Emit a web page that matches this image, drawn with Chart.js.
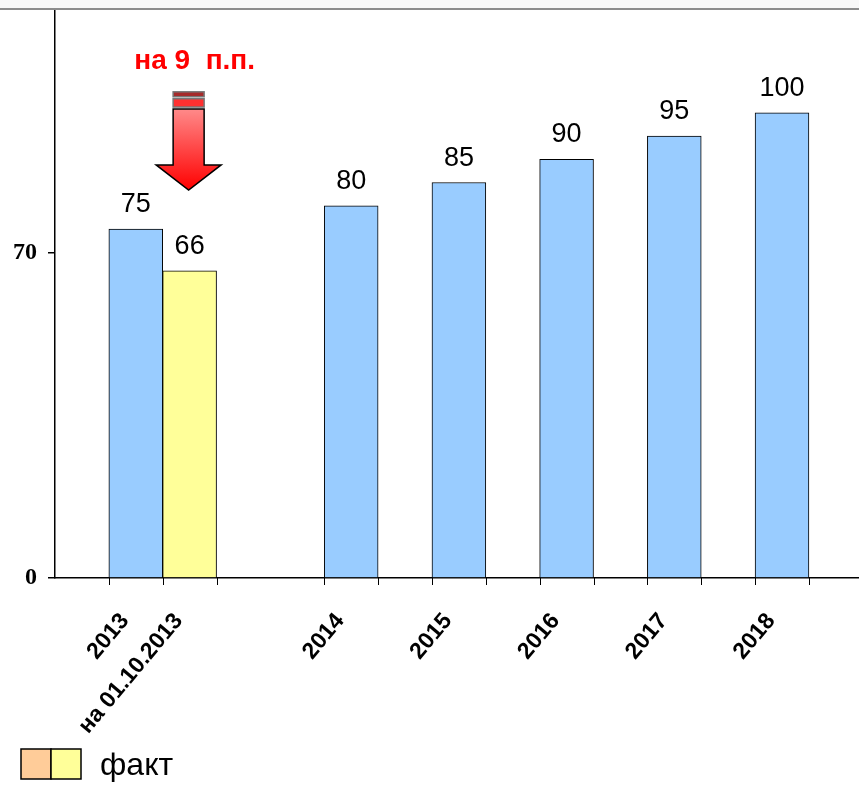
<!DOCTYPE html>
<html>
<head>
<meta charset="utf-8">
<script src="https://cdn.jsdelivr.net/npm/chart.js@4.4.0/dist/chart.umd.min.js"></script>
<style>
  html, body { margin: 0; padding: 0; background: #fff; overflow: hidden; }
  #wrap { position: absolute; left: 0; top: -15px; width: 879px; height: 800px; }
  #topline { position: absolute; left: 0; top: 0; width: 859px; height: 8px;
             background: #f8f8f8; border-bottom: 2px solid #8c8c8c; z-index: 2; }
</style>
</head>
<body>
<div id="topline"></div>
<div id="wrap"><canvas id="chart"></canvas></div>
<script>
'use strict';

// ─── Data ─────────────────────────────────────────────────────
// one slot per bar width; empty strings / nulls are the gaps
const slotLabels = ['', '2013', 'на 01.10.2013', '', '', '2014', '', '2015', '', '2016', '', '2017', '', '2018', ''];
const planValues = [null, 75, null, null, null, 80, null, 85, null, 90, null, 95, null, 100, null];
const factValues = [null, null, 66, null, null, null, null, null, null, null, null, null, null, null, null];
const yTicks     = [0, 70];
const yMax       = 122;

const calloutText   = 'на 9  п.п.';
const calloutValue  = 109.5;          // baseline of the red text, in axis units
const arrowTopValue = 104.5;
const arrowTipValue = 83.4;
const legendText    = 'факт';

const SANS  = '"Liberation Sans", Arial, sans-serif';
const SERIF = '"Liberation Serif", "Times New Roman", serif';

// ─── Plugins ──────────────────────────────────────────────────
const barExtras = {
  id: 'barExtras',
  afterDatasetsDraw(chart) {
    const { ctx } = chart;
    const y = chart.scales.y;
    const base = y.getPixelForValue(0);

    ctx.save();
    // tick marks at bar edges + value labels
    ctx.strokeStyle = '#000';
    ctx.lineWidth = 1;
    ctx.fillStyle = '#000';
    ctx.font = '27px ' + SANS;
    ctx.textAlign = 'center';
    ctx.textBaseline = 'alphabetic';
    chart.data.datasets.forEach((ds, di) => {
      chart.getDatasetMeta(di).data.forEach((bar, i) => {
        const v = ds.data[i];
        if (v == null) return;
        const half = bar.width / 2;
        [bar.x - half, bar.x + half].forEach(px => {
          ctx.beginPath();
          ctx.moveTo(Math.round(px) + 0.5, base);
          ctx.lineTo(Math.round(px) + 0.5, base + 7);
          ctx.stroke();
        });
        ctx.fillText(String(v), bar.x, bar.y - 17);
      });
    });

    // red callout + arrow over the fact bar
    const fact = chart.getDatasetMeta(1).data[2];
    const cx = fact.x - 1;
    ctx.fillStyle = '#ff0000';
    ctx.font = 'bold 28px ' + SANS;
    ctx.fillText(calloutText, cx + 6, y.getPixelForValue(calloutValue));

    const top = y.getPixelForValue(arrowTopValue);
    const tip = y.getPixelForValue(arrowTipValue);
    const h = tip - top;
    const sw = 15.5, hw = 32.5;
    const s1b = top + h * 0.05, s2t = top + h * 0.07, s2b = top + h * 0.155;
    const shaftTop = top + h * 0.175, headTop = top + h * 0.745;

    ctx.lineWidth = 1.5;
    ctx.strokeStyle = '#777';
    ctx.fillStyle = '#a52a2a';
    ctx.fillRect(cx - sw, top, sw * 2, s1b - top);
    ctx.strokeRect(cx - sw, top, sw * 2, s1b - top);
    ctx.fillStyle = '#ff3030';
    ctx.fillRect(cx - sw, s2t, sw * 2, s2b - s2t);
    ctx.strokeRect(cx - sw, s2t, sw * 2, s2b - s2t);

    const grad = ctx.createLinearGradient(0, shaftTop, 0, tip);
    grad.addColorStop(0, '#ff8a8a');
    grad.addColorStop(1, '#ff0000');
    ctx.fillStyle = grad;
    ctx.strokeStyle = '#000';
    ctx.beginPath();
    ctx.moveTo(cx - sw, shaftTop);
    ctx.lineTo(cx + sw, shaftTop);
    ctx.lineTo(cx + sw, headTop);
    ctx.lineTo(cx + hw, headTop);
    ctx.lineTo(cx, tip);
    ctx.lineTo(cx - hw, headTop);
    ctx.lineTo(cx - sw, headTop);
    ctx.closePath();
    ctx.fill();
    ctx.stroke();

    // legend (bottom left)
    const ly = chart.height - 36;
    ctx.lineWidth = 1.5;
    ctx.fillStyle = '#ffcc99';
    ctx.fillRect(21, ly, 30, 30);
    ctx.strokeRect(21, ly, 30, 30);
    ctx.fillStyle = '#ffff99';
    ctx.fillRect(51, ly, 30, 30);
    ctx.strokeRect(51, ly, 30, 30);
    ctx.fillStyle = '#000';
    ctx.font = '32px ' + SANS;
    ctx.textAlign = 'left';
    ctx.fillText(legendText, 100, ly + 26);
    ctx.restore();
  }
};

// ─── Chart ────────────────────────────────────────────────────
new Chart(document.getElementById('chart'), {
  type: 'bar',
  data: {
    labels: slotLabels,
    datasets: [
      { label: 'план', data: planValues, backgroundColor: '#99ccff', borderColor: '#000', borderWidth: 1 },
      { label: legendText, data: factValues, backgroundColor: '#ffff99', borderColor: '#000', borderWidth: 1 },
    ]
  },
  options: {
    responsive: true,
    maintainAspectRatio: false,
    animation: false,
    grouped: false,
    barPercentage: 1,
    categoryPercentage: 1,
    layout: { padding: { top: 10, left: 0, right: 0, bottom: 0 } },
    plugins: { legend: { display: false }, tooltip: { enabled: false } },
    scales: {
      x: {
        grid: { display: false },
        border: { color: '#000', width: 1.5 },
        ticks: {
          autoSkip: false, minRotation: 50, maxRotation: 50,
          color: '#000', padding: 22, labelOffset: -11,
          font: { family: SANS, size: 23, weight: 'bold' }
        },
        afterFit(s) { s.height = 207; }
      },
      y: {
        min: 0, max: yMax,
        grid: { drawOnChartArea: false, color: '#000', tickLength: 7, lineWidth: 1.5 },
        border: { color: '#000', width: 1.5 },
        afterBuildTicks(s) { s.ticks = yTicks.map(v => ({ value: v })); },
        ticks: {
          color: '#000', padding: 11,
          font: { family: SERIF, size: 24, weight: 'bold' }
        },
        afterFit(s) { s.width = 55; }
      }
    }
  },
  plugins: [barExtras]
});
</script>
</body>
</html>
